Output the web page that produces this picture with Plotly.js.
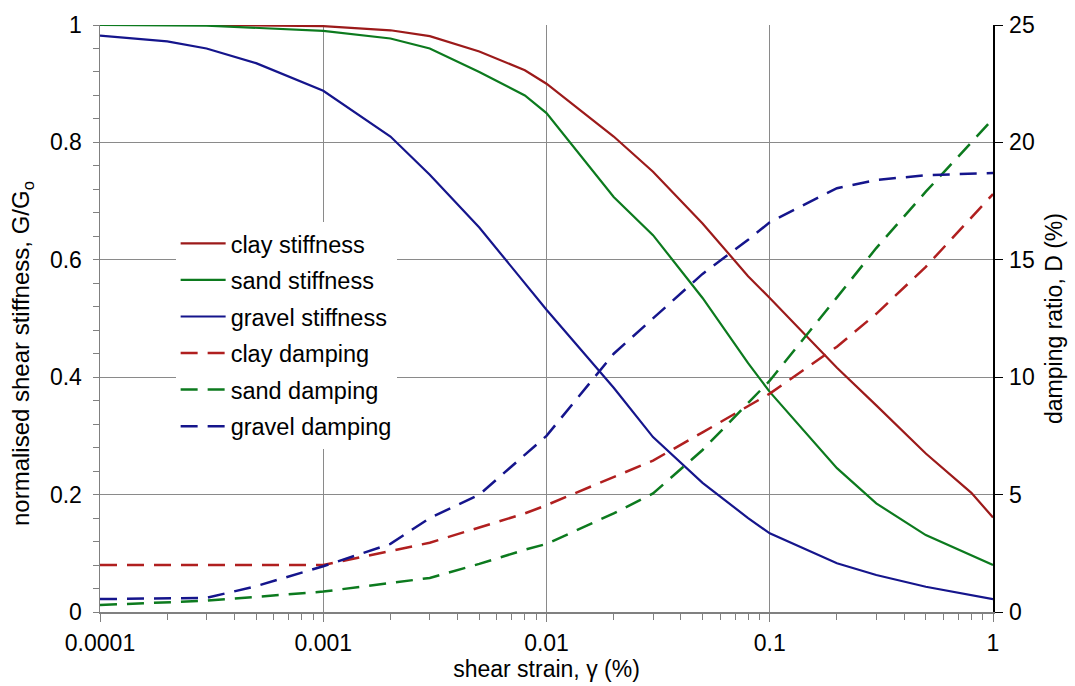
<!DOCTYPE html>
<html>
<head>
<meta charset="utf-8">
<script src="https://cdn.plot.ly/plotly-3.0.1.min.js"></script>
<style>html,body{margin:0;padding:0;background:#fff;}#chart{width:1075px;height:686px;}</style>
</head>
<body>
<div id="chart"></div>
<script>
// shear strain (%) values
const clayStiffStrain = [0.0001, 0.0003, 0.001, 0.002, 0.003, 0.005, 0.008, 0.01, 0.02, 0.03, 0.05, 0.08, 0.1, 0.2, 0.3, 0.5, 0.8, 1];
const clayStiff       = [1.0, 1.0, 0.998, 0.991, 0.981, 0.955, 0.923, 0.900, 0.810, 0.750, 0.662, 0.572, 0.535, 0.416, 0.352, 0.270, 0.203, 0.161];

const sandStiffStrain = [0.0001, 0.0003, 0.001, 0.002, 0.003, 0.005, 0.008, 0.01, 0.02, 0.03, 0.05, 0.08, 0.1, 0.2, 0.3, 0.5, 1];
const sandStiff       = [1.0, 0.999, 0.990, 0.977, 0.960, 0.920, 0.880, 0.850, 0.707, 0.642, 0.535, 0.424, 0.375, 0.245, 0.185, 0.131, 0.080];

const gravelStiffStrain = [0.0001, 0.0002, 0.0003, 0.0005, 0.001, 0.002, 0.003, 0.005, 0.01, 0.02, 0.03, 0.05, 0.08, 0.1, 0.2, 0.3, 0.5, 1];
const gravelStiff       = [0.982, 0.972, 0.960, 0.935, 0.888, 0.810, 0.745, 0.655, 0.515, 0.382, 0.298, 0.220, 0.160, 0.134, 0.083, 0.063, 0.043, 0.022];

const clayDampStrain = [0.0001, 0.001, 0.002, 0.003, 0.005, 0.008, 0.01, 0.02, 0.03, 0.05, 0.08, 0.1, 0.2, 0.3, 0.5, 1];
const clayDamp       = [2.0, 2.0, 2.6, 2.95, 3.6, 4.2, 4.55, 5.75, 6.45, 7.65, 8.75, 9.3, 11.3, 12.7, 14.7, 17.8];

const sandDampStrain = [0.0001, 0.0003, 0.001, 0.002, 0.003, 0.005, 0.008, 0.01, 0.02, 0.03, 0.05, 0.08, 0.1, 0.2, 0.3, 0.5, 1];
const sandDamp       = [0.3, 0.48, 0.87, 1.25, 1.45, 2.05, 2.65, 2.9, 4.2, 5.05, 6.9, 8.9, 9.85, 13.4, 15.5, 17.9, 21.0];

const gravelDampStrain = [0.0001, 0.0003, 0.0005, 0.001, 0.002, 0.003, 0.005, 0.01, 0.02, 0.03, 0.05, 0.08, 0.1, 0.2, 0.3, 0.5, 1];
const gravelDamp       = [0.55, 0.6, 1.1, 1.95, 2.9, 4.0, 5.0, 7.5, 11.0, 12.5, 14.4, 15.85, 16.6, 18.05, 18.4, 18.6, 18.7];

const seriesNames = ['clay stiffness', 'sand stiffness', 'gravel stiffness', 'clay damping', 'sand damping', 'gravel damping'];
const xTickVals = [0.0001, 0.001, 0.01, 0.1, 1];
const xTickText = ['0.0001', '0.001', '0.01', '0.1', '1'];

const RED = '#9c1a1a', GREEN = '#0c7a1e', BLUE = '#15158c';
const DASH = '17px,10px';

const minorX = [];
for (let e = -4; e < 0; e++) for (let d = 2; d <= 9; d++) minorX.push(d * Math.pow(10, e));

function solid(x, y, name, color) {
  return {x: x, y: y, name: name, type: 'scatter', mode: 'lines', legendgroup: name,
          line: {color: color, width: 2.2}, xaxis: 'x', yaxis: 'y'};
}
function dashed(x, y, name, color) {
  return {x: x, y: y, name: name, type: 'scatter', mode: 'lines', legendgroup: name,
          line: {color: color, width: 2.5, dash: DASH}, xaxis: 'x', yaxis: 'y2'};
}

const data = [
  solid(clayStiffStrain, clayStiff, seriesNames[0], RED),
  solid(sandStiffStrain, sandStiff, seriesNames[1], GREEN),
  solid(gravelStiffStrain, gravelStiff, seriesNames[2], BLUE),
  dashed(clayDampStrain, clayDamp, seriesNames[3], '#b01f1f'),
  dashed(sandDampStrain, sandDamp, seriesNames[4], '#0c7a1e'),
  dashed(gravelDampStrain, gravelDamp, seriesNames[5], '#15158c')
];

const FONT = 'Arial, "Liberation Sans", sans-serif';
const FS = 23;
const layout = {
  width: 1075, height: 686,
  margin: {l: 100, r: 82, t: 25, b: 74},
  paper_bgcolor: '#fff', plot_bgcolor: '#fff',
  font: {family: FONT, size: FS, color: '#000'},
  showlegend: true,
  legend: {x: 0.0847, y: 0.665, xanchor: 'left', yanchor: 'top', bgcolor: '#fff', borderwidth: 0,
           font: {family: FONT, size: 23.5, color: '#000'}, tracegroupgap: 3, itemwidth: 45},
  xaxis: {type: 'log', range: [-4, 0], tickvals: xTickVals, ticktext: xTickText,
          showline: true, linecolor: '#808080', linewidth: 1.5,
          showgrid: true, gridcolor: '#8a8a8a', gridwidth: 1,
          ticks: 'outside', ticklen: 8, tickcolor: '#808080', tickwidth: 1,
          minor: {tickvals: minorX, ticks: 'outside', ticklen: 6, tickcolor: '#808080', showgrid: false},
          tickfont: {size: FS}, zeroline: false, ticklabelstandoff: 2,
          title: {text: 'shear strain, γ (%)', font: {size: FS}, standoff: 6}},
  yaxis: {range: [0, 1], dtick: 0.2, showline: true, linecolor: '#808080', linewidth: 1.5,
          showgrid: true, gridcolor: '#8a8a8a', gridwidth: 1,
          ticks: 'outside', ticklen: 6, tickcolor: '#808080',
          minor: {dtick: 0.04, ticks: 'outside', ticklen: 6, tickcolor: '#808080', showgrid: false},
          zeroline: false, tickfont: {size: FS}, ticklabelstandoff: 6},
  yaxis2: {range: [0, 25], dtick: 5, overlaying: 'y', side: 'right', showgrid: false, zeroline: false,
           showline: true, linecolor: '#000', linewidth: 1.5,
           ticks: 'outside', ticklen: 8, tickcolor: '#000', tickfont: {size: FS}, ticklabelstandoff: 2,
           title: {text: 'damping ratio, D (%)', font: {size: FS}, standoff: 12}},
  annotations: [{
    text: 'normalised shear stiffness, G/G<sub>o</sub>', textangle: -90,
    xref: 'paper', yref: 'paper', x: -0.0873, y: 0.4395, xanchor: 'center', yanchor: 'middle',
    showarrow: false, font: {family: FONT, size: 24, color: '#000'}
  }]
};

Plotly.newPlot('chart', data, layout, {displayModeBar: false, staticPlot: true});
</script>
</body>
</html>
